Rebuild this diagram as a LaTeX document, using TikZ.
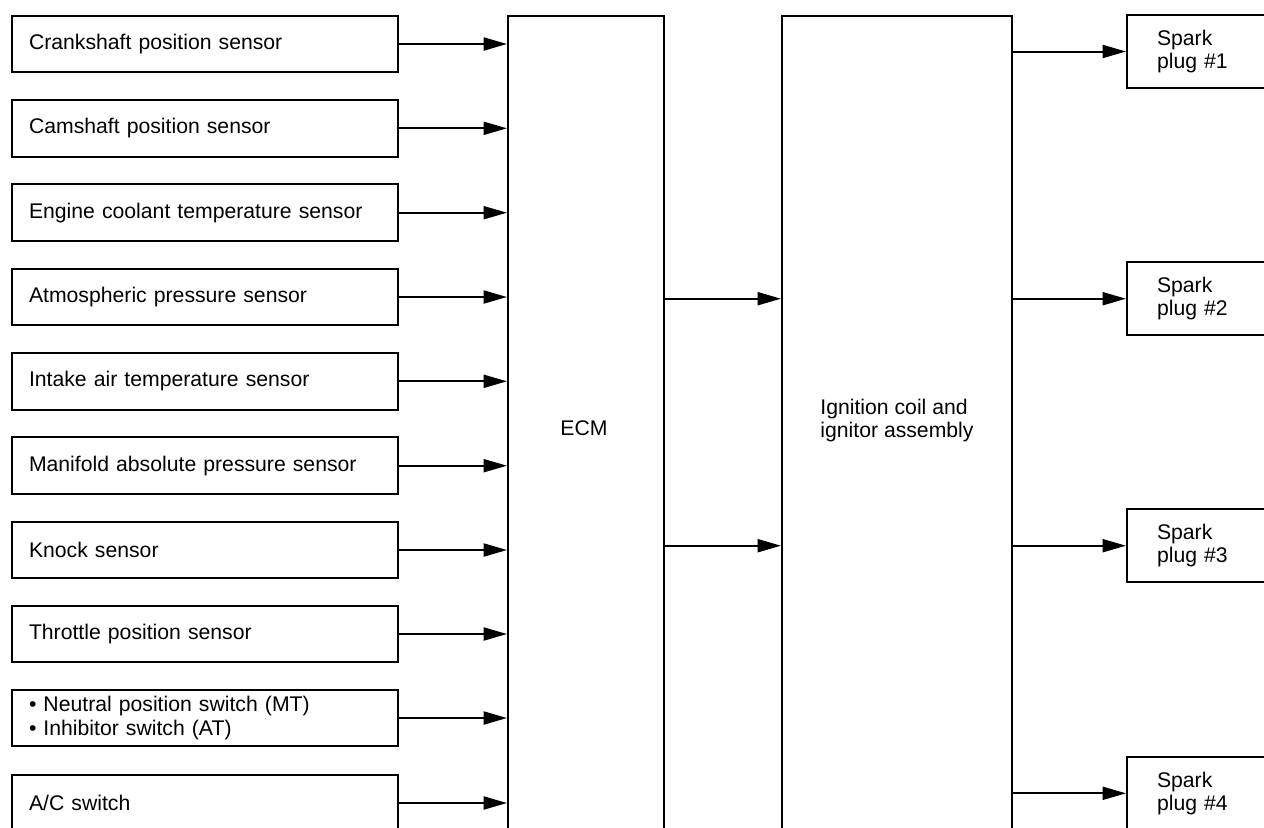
\documentclass[tikz,border=0pt]{standalone}
\usepackage{fontspec}
\setmainfont{Liberation Sans}
\usetikzlibrary{arrows.meta}
\tikzset{
  box/.style={draw, line width=1pt, rectangle, inner ysep=0pt},
  sensor/.style={box, minimum width=193pt, minimum height=28.25pt, text width=176pt, inner xsep=8.5pt, align=left},
  plug/.style={box, minimum width=86.5pt, minimum height=36.5pt, text width=56.5pt, inner xsep=15pt, align=left},
  arr/.style={line width=1pt, -{Triangle[length=11.7pt,width=6.5pt]}},
  lbl/.style={inner sep=0pt, align=left}
}
\begin{document}
\begin{tikzpicture}[x=0.5pt, y=-0.5pt, font=\fontsize{10.6pt}{11.65pt}\selectfont]
\path[use as bounding box] (0,0) rectangle (1264,827);
\clip (0,0) rectangle (1264,827);
% sensors
\node[sensor] (s1) at (205,44) {Crankshaft position sensor};
\node[sensor] (s2) at (205,128.3) {Camshaft position sensor};
\node[sensor] (s3) at (205,212.7) {Engine coolant temperature sensor};
\node[sensor] (s4) at (205,297) {Atmospheric pressure sensor};
\node[sensor] (s5) at (205,381.3) {Intake air temperature sensor};
\node[sensor] (s6) at (205,465.7) {Manifold absolute pressure sensor};
\node[sensor] (s7) at (205,550) {Knock sensor};
\node[sensor] (s8) at (205,634) {Throttle position sensor};
\node[sensor] (s9) at (205,718) {• Neutral position switch (MT)\\• Inhibitor switch (AT)};
\node[sensor] (s10) at (205,803) {A/C switch};
% ECM
\node[box, minimum width=78pt, minimum height=442pt] (ecm) at (586,458) {};
\node[lbl] (ecmlabel) at (584,428.5) {ECM};
% Ignition
\node[box, minimum width=115pt, minimum height=442pt] (ign) at (897,458) {};
\node[lbl, anchor=west] (ignlabel) at (820,420.5) {Ignition coil and\\ignitor assembly};
% spark plugs
\node[plug] (p1) at (1213.5,51.5) {Spark\\plug \#1};
\node[plug] (p2) at (1213.5,298.7) {Spark\\plug \#2};
\node[plug] (p3) at (1213.5,545.7) {Spark\\plug \#3};
\node[plug] (p4) at (1213.5,793.3) {Spark\\plug \#4};
% connectors
\foreach \s in {s1,s2,s3,s4,s5,s6,s7,s8,s9,s10}{
  \draw[arr] (\s.east) -- (\s.east -| ecm.west);
}
\draw[arr] (ecm.east |- p2.west) -- (ign.west |- p2.west);
\draw[arr] (ecm.east |- p3.west) -- (ign.west |- p3.west);
\foreach \p in {p1,p2,p3,p4}{
  \draw[arr] (ign.east |- \p.west) -- (\p.west);
}
\end{tikzpicture}
\end{document}
